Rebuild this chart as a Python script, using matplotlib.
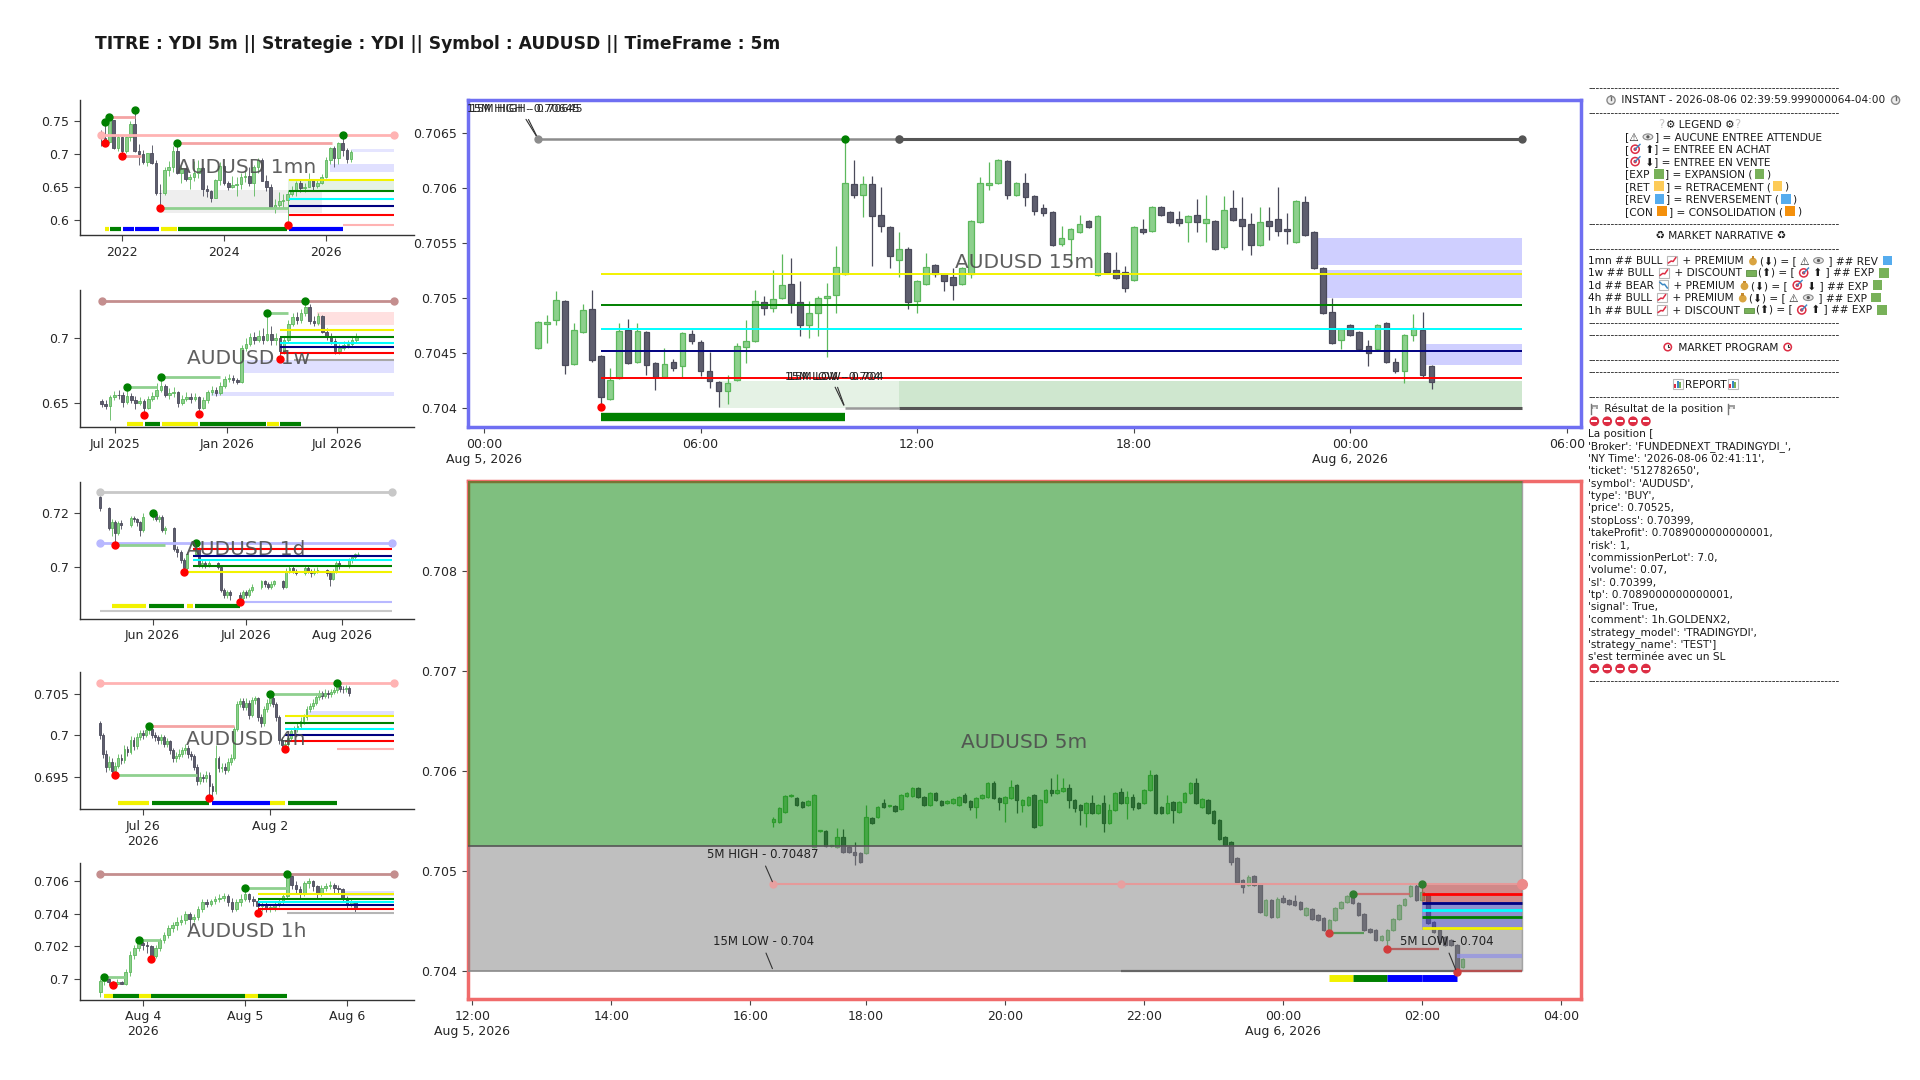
import matplotlib
matplotlib.use("Agg")
import matplotlib.dates as mdates
import matplotlib.pyplot as plt
import numpy as np
import pandas as pd
from matplotlib import font_manager
from matplotlib.ft2font import FT2Font
from matplotlib.lines import Line2D
from matplotlib.patches import Circle, Ellipse, Rectangle
from matplotlib.transforms import IdentityTransform

plt.rcParams["font.family"] = ["DejaVu Sans", "Noto Sans CJK SC"]

TITLE = "TITRE : YDI 5m || Strategie : YDI || Symbol : AUDUSD || TimeFrame : 5m"

# ---------------- monthly (1mn) ----------------
MN_START = "2021-08-01"
MN_OPEN0 = 0.734
mn_close = [.724, .7175, .7515, .709, .7265, .704, .7265, .746, .7045, .6995,
            .688, .701, .686, .6405, .640, .6755, .680, .7045, .6705, .6765,
            .6615, .6645, .6705, .6785, .6465, .643, .6335, .6605, .682, .6565,
            .6505, .6525, .6545, .6645, .6665, .6555, .6805, .6915, .6595, .6505,
            .6195, .6225, .6285, .6295, .6385, .6435, .6555, .6485, .6505, .6605,
            .6515, .6555, .6655, .6905, .7085, .6935, .7165, .7065, .6925, .7035]
mn_high = [.737, .749, .7565, .752, .730, .7275, .728, .7505, .7665, .7155,
           .7065, .702, .7135, .6915, .6545, .6795, .6895, .7115, .7165, .6815,
           .6795, .6695, .6895, .6915, .6805, .6525, .6445, .6625, .6875, .6835,
           .6595, .6665, .6645, .6715, .6755, .6795, .6825, .6945, .6935, .6685,
           .6545, .6315, .6415, .6385, .6445, .6515, .6595, .6625, .6565, .6705,
           .6625, .6615, .6695, .6955, .7105, .7115, .7185, .7285, .7095, .7055]
mn_low = [.7115, .7165, .7165, .707, .705, .6975, .702, .720, .703, .6835,
          .684, .681, .684, .637, .6175, .638, .6665, .672, .669, .6565,
          .6595, .6465, .6595, .6635, .6365, .634, .6275, .6325, .6525, .6535,
          .6445, .6485, .6365, .6465, .6575, .6515, .6355, .6715, .6585, .6435,
          .6175, .6095, .6185, .6185, .5925, .6355, .6365, .6425, .6415, .6505,
          .6445, .6475, .6545, .6635, .6855, .6795, .6855, .6965, .6865, .6885]

# ---------------- weekly (1w) ----------------
W_START = "2025-06-08"
W_OPEN0 = 0.6515
w_close = [.6495, .648, .6545, .6565, .656, .651, .6555, .6525, .6505, .652,
           .6465, .6535, .6555, .6605, .6635, .656, .6575, .6585, .6505, .653,
           .655, .6535, .6545, .6465, .6525, .6585, .6605, .6575, .6635, .6685,
           .6695, .6675, .6665, .6925, .6955, .7005, .6985, .7015, .6985, .7025,
           .6985, .6995, .6895, .6985, .7105, .7155, .7135, .7185, .7235, .7125,
           .7115, .7165, .7045, .7005, .6975, .6895, .6925, .6945, .6955, .6985, .7005]
w_high = [.6535, .6525, .6565, .6595, .6605, .6585, .6622, .6575, .6555, .6545,
          .6535, .6555, .6585, .6655, .6703, .6645, .6615, .6625, .6595, .6565,
          .6585, .6575, .6575, .6555, .6545, .6605, .6635, .6625, .6665, .6705,
          .6725, .6715, .6695, .6945, .6995, .7035, .7045, .7055, .7075, .719,
          .7085, .7035, .7005, .7015, .7135, .7185, .7195, .7215, .7279, .7255,
          .7165, .7185, .7175, .7075, .7035, .6995, .6955, .6975, .6985, .7015, .7035]
w_low = [.6475, .6455, .6375, .6525, .6535, .6475, .6495, .6505, .6455, .6485,
         .6411, .6455, .6515, .6535, .6585, .6545, .6535, .6545, .6475, .6485,
         .6515, .6505, .6515, .6419, .6455, .6505, .6565, .6555, .6565, .6615,
         .6665, .6655, .6645, .6655, .6895, .6935, .6955, .6965, .6955, .6975,
         .6945, .6945, .6835, .6875, .6965, .7085, .7105, .7115, .7165, .7105,
         .7085, .7095, .7035, .6985, .6955, .6875, .6875, .6905, .6925, .6935, .6965]

# ---------------- daily (1d) ----------------
D_START, D_END = "2026-05-15", "2026-08-06"
D_OPEN0 = 0.7259
d_close = [.7216, .7145, .7165, .7125, .716, .7155, .718, .7175, .7165, .7135,
           .7185, .7195, .7175, .7185, .7135, .7145, .7065, .7055, .7025, .6995,
           .7045, .7065, .7005, .7015, .7005, .7015, .7000, .6915, .6895, .6905,
           .6895, .6885, .6905, .6895, .6915, .6925, .6945, .6935, .6925, .6935,
           .6945, .6925, .6985, .6995, .6985, .6975, .6995, .6985, .6975, .6985,
           .6988, .6975, .6955, .6985, .7015, .7005, .7025, .7035, .7045, .7048]
d_high = [.7268, .7222, .7178, .7172, .7168, .7172, .7188, .7186, .7182, .7170,
          .7200, .7200, .7198, .7192, .7190, .7152, .7148, .7078, .7062, .7032,
          .7055, .7089, .7072, .7028, .7022, .7020, .7018, .7003, .6922, .6915,
          .6912, .6905, .6912, .6915, .6922, .6935, .6952, .6952, .6942, .6945,
          .6952, .6950, .6995, .7005, .7002, .6992, .7003, .7005, .6992, .6995,
          .6998, .6992, .6982, .6992, .7022, .7025, .7032, .7042, .7052, .7055]
d_low = [.7205, .7135, .7112, .7079, .7118, .7138, .7148, .7165, .7152, .7115,
         .7128, .7172, .7168, .7165, .7128, .7122, .7058, .7035, .7012, .6979,
         .6988, .7038, .6998, .6995, .6996, .6998, .6992, .6905, .6882, .6885,
         .6878, .6867, .6875, .6885, .6888, .6905, .6918, .6925, .6918, .6918,
         .6928, .6918, .6920, .6978, .6975, .6968, .6968, .6975, .6962, .6970,
         .6975, .6965, .6930, .6950, .6978, .6992, .6995, .7012, .7028, .7038]

# ---------------- 4h ----------------
H4_START = "2026-07-23 16:00"
H4_OPEN0 = 0.7015
h4_close = [.7000, .6978, .6962, .6968, .6957, .6963, .6972, .6970, .6983, .6980,
            .6995, .6987, .6998, .7003, .7001, .7006, .7008, .7001, .6998, .6994,
            .6998, .6990, .6993, .6982, .6972, .6975, .6978, .6982, .6985, .6978,
            .6975, .6962, .6945, .6950, .6948, .6952, .6938, .6932, .6972, .6960,
            .6962, .6958, .6968, .6972, .7008, .7038, .7042, .7035, .7040, .7025,
            .7043, .7045, .7022, .7015, .7032, .7040, .7045, .7038, .7022, .6995,
            .6988, .6990, .6997, .7005, .7008, .7012, .7018, .7022, .7032, .7036,
            .7040, .7047, .7051, .7048, .7052, .7050, .7053, .7055, .7060, .7057,
            .7056, .7058, .7052]
h4_high = [.7018, .7003, .6982, .6975, .6972, .6968, .6978, .6977, .6988, .6987,
           .6999, .6998, .7003, .7007, .7006, .7010, .7012, .7010, .7004, .7000,
           .7002, .7000, .6997, .6995, .6985, .6980, .6983, .6986, .6990, .6988,
           .6981, .6977, .6965, .6955, .6953, .6957, .6955, .6942, .6988, .6975,
           .6967, .6966, .6972, .6977, .7012, .7042, .7046, .7045, .7045, .7043,
           .7047, .7048, .7047, .7026, .7036, .7044, .7050, .7048, .7041, .7025,
           .6998, .6994, .7001, .7009, .7012, .7016, .7022, .7026, .7036, .7040,
           .7044, .7051, .7055, .7054, .7056, .7055, .7057, .7059, .7064, .7062,
           .7060, .7061, .7060]
h4_low = [.6996, .6972, .6955, .6958, .6950, .6952, .6960, .6965, .6967, .6975,
          .6977, .6982, .6984, .6994, .6996, .6998, .7002, .6997, .6993, .6990,
          .6990, .6986, .6986, .6978, .6968, .6968, .6971, .6974, .6978, .6973,
          .6970, .6958, .6940, .6941, .6943, .6944, .6924, .6926, .6929, .6956,
          .6955, .6953, .6955, .6964, .6970, .7005, .7034, .7031, .7031, .7020,
          .7022, .7038, .7018, .7010, .7012, .7028, .7036, .7034, .7018, .6990,
          .6985, .6984, .6986, .6993, .7001, .7004, .7009, .7014, .7019, .7028,
          .7032, .7037, .7043, .7044, .7045, .7046, .7047, .7050, .7052, .7053,
          .7052, .7053, .7048]

# ---------------- 1h ----------------
H1_START = "2026-08-03 14:00"
H1_OPEN0 = 0.6992
h1_close = [.6999, .7000, .6998, .6997, .6998, .6997, .7004, .7015, .7019, .7022,
            .7021, .7020, .7014, .7019, .7024, .7027, .7031, .7033, .7035, .7036,
            .7040, .7037, .7038, .7043, .7047, .7046, .7048, .7049, .7050, .7051,
            .7047, .7043, .7047, .7049, .7052, .7049, .7048, .7045, .7046, .7043,
            .7044, .7046, .7048, .7051, .7063, .7058, .7055, .7053, .7059, .7060,
            .7057, .7052, .7056, .7057, .7058, .7056, .7055, .7050, .7046, .7047, .7043]
h1_high = [.7000, .70014, .7001, .6999, .7000, .6999, .7006, .7017, .7021, .70239,
           .7023, .7023, .7021, .7021, .7025, .7029, .7033, .7035, .7038, .7039,
           .7042, .7041, .7040, .7045, .7049, .7049, .7049, .7051, .7052, .7053,
           .7052, .7050, .7049, .7052, .7056, .7053, .7051, .7049, .7048, .7047,
           .7046, .7048, .7050, .7053, .70647, .7064, .7060, .7057, .7060, .7062,
           .7061, .7058, .7058, .7059, .7060, .7059, .7058, .7056, .7051, .7049, .7048]
h1_low = [.6989, .6996, .6996, .69963, .6996, .69966, .6996, .7002, .7012, .7017,
          .7018, .7016, .7012, .7013, .7017, .7022, .7025, .7029, .7030, .7033,
          .7034, .7030, .7035, .7036, .7041, .7044, .7045, .7046, .7047, .7048,
          .7045, .7041, .7042, .7045, .7048, .7047, .7045, .70402, .7042, .7041,
          .7041, .7042, .7044, .7046, .7050, .7055, .7052, .7050, .7051, .7056,
          .7054, .7050, .7051, .7054, .7055, .7053, .7052, .7047, .7043, .7044, .7041]

# ---------------- 15m (points above 0.70000) ----------------
M15_START = "2026-08-05 01:30"
m15_o = [454, 476, 480, 497, 440, 469, 490, 447, 408, 427, 471, 442, 469, 441, 428, 442, 438, 467, 460, 433,
         423, 415, 425, 455, 461, 496, 491, 500, 513, 496, 475, 486, 500, 503, 522, 604, 594, 604, 576, 565,
         535, 545, 497, 513, 530, 522, 519, 513, 522, 569, 603, 605, 625, 594, 605, 593, 582, 578, 549, 554,
         560, 570, 521, 541, 525, 524, 516, 563, 561, 583, 578, 572, 569, 576, 568, 570, 546, 582, 572, 567,
         548, 570, 572, 563, 551, 587, 560, 527, 487, 462, 475, 469, 456, 453, 477, 442, 433, 466, 471, 438]
m15_h = [479, 484, 506, 498, 477, 494, 507, 448, 436, 477, 481, 477, 470, 442, 454, 444, 469, 471, 462, 451,
         424, 430, 459, 480, 507, 502, 525, 540, 536, 515, 497, 502, 514, 547, 645, 626, 611, 611, 601, 566,
         560, 546, 516, 541, 531, 523, 527, 528, 571, 610, 624, 627, 626, 606, 614, 594, 586, 579, 566, 564,
         576, 571, 576, 542, 542, 529, 566, 572, 584, 584, 579, 579, 576, 590, 594, 571, 593, 598, 592, 577,
         583, 583, 601, 577, 589, 593, 561, 528, 500, 473, 476, 470, 462, 476, 478, 445, 467, 485, 487, 439]
m15_l = [453, 459, 475, 431, 439, 468, 442, 401, 407, 426, 440, 441, 430, 416, 427, 433, 428, 458, 429, 418,
         401, 403, 424, 441, 460, 484, 487, 499, 486, 465, 463, 465, 446, 486, 521, 591, 574, 529, 560, 527,
         519, 490, 486, 512, 519, 506, 498, 512, 518, 568, 598, 604, 590, 593, 584, 576, 575, 547, 547, 532,
         559, 564, 520, 523, 517, 505, 515, 558, 560, 575, 568, 566, 551, 560, 551, 544, 545, 570, 544, 539,
         547, 553, 556, 549, 550, 556, 526, 485, 458, 453, 465, 452, 438, 452, 441, 432, 422, 461, 427, 417]
m15_c = [478, 478, 498, 439, 471, 489, 443, 410, 425, 470, 441, 470, 439, 428, 440, 436, 468, 461, 433, 424,
         415, 422, 456, 461, 497, 491, 499, 512, 495, 475, 486, 500, 502, 528, 605, 594, 604, 575, 566, 538,
         545, 496, 515, 528, 522, 515, 512, 527, 570, 605, 605, 626, 594, 605, 592, 579, 577, 548, 555, 563,
         567, 565, 575, 524, 518, 509, 565, 560, 583, 576, 569, 568, 575, 569, 572, 545, 580, 571, 566, 548,
         569, 566, 561, 561, 588, 557, 527, 486, 459, 472, 466, 453, 450, 475, 442, 433, 466, 473, 430, 423]

# ---------------- 5m (points above 0.70000) ----------------
M5_START = "2026-08-05 16:40"
m5_o = [549, 549, 559, 575, 573, 569, 566, 524, 540, 540, 525, 524, 534, 524, 519, 518, 518, 553, 554, 568,
        565, 565, 562, 575, 575, 583, 574, 566, 578, 570, 568, 568, 566, 576, 570, 564, 573, 574, 588, 573,
        568, 573, 586, 566, 566, 576, 546, 569, 581, 578, 580, 583, 571, 566, 558, 568, 558, 568, 548, 561,
        579, 568, 574, 568, 568, 581, 596, 564, 558, 569, 559, 569, 578, 588, 564, 571, 560, 551, 534, 529,
        513, 491, 486, 495, 487, 456, 471, 454, 473, 471, 470, 469, 456, 462, 456, 453, 441, 451, 463, 469,
        477, 468, 457, 442, 441, 431, 431, 441, 452, 466, 475, 485, 471, 477, 449, 441, 434, 431, 426, 404]
m5_h = [554, 564, 576, 577, 574, 570, 571, 577, 541, 541, 526, 543, 542, 525, 529, 519, 566, 554, 565, 572,
        566, 566, 577, 579, 584, 584, 575, 579, 579, 571, 571, 573, 575, 578, 571, 574, 577, 589, 590, 574,
        575, 591, 587, 572, 575, 577, 572, 582, 593, 597, 593, 587, 572, 567, 569, 576, 567, 576, 567, 579,
        583, 580, 577, 569, 582, 601, 597, 565, 576, 570, 570, 579, 589, 593, 573, 572, 561, 552, 535, 530,
        514, 492, 496, 496, 488, 472, 472, 474, 476, 472, 476, 470, 464, 463, 457, 454, 452, 464, 470, 476,
        477, 469, 458, 443, 442, 436, 442, 453, 467, 473, 486, 487, 487, 478, 450, 442, 435, 432, 427, 413]
m5_l = [544, 548, 558, 574, 565, 563, 565, 523, 539, 524, 524, 523, 518, 518, 506, 508, 517, 547, 553, 563,
        564, 559, 561, 574, 574, 573, 565, 565, 570, 565, 567, 567, 565, 568, 561, 553, 572, 573, 572, 561,
        549, 572, 558, 559, 565, 543, 545, 568, 575, 577, 579, 563, 559, 546, 544, 557, 557, 539, 547, 560,
        567, 552, 561, 562, 567, 580, 557, 557, 557, 548, 558, 568, 577, 567, 563, 557, 547, 531, 525, 506,
        488, 478, 485, 485, 458, 455, 453, 453, 468, 466, 465, 461, 455, 451, 450, 440, 438, 450, 462, 468,
        467, 455, 440, 438, 430, 430, 422, 440, 451, 465, 474, 470, 470, 447, 438, 428, 425, 425, 399, 403]
m5_c = [552, 563, 575, 576, 566, 564, 570, 576, 540, 525, 525, 534, 519, 519, 516, 509, 554, 548, 564, 564,
        565, 560, 576, 578, 583, 574, 566, 578, 571, 566, 570, 572, 574, 569, 564, 573, 576, 588, 573, 569,
        574, 584, 571, 571, 574, 544, 571, 581, 578, 581, 583, 571, 563, 561, 568, 558, 566, 548, 561, 578,
        568, 574, 564, 563, 581, 596, 558, 558, 568, 561, 569, 578, 588, 568, 572, 558, 548, 532, 526, 509,
        489, 484, 494, 486, 459, 471, 454, 472, 469, 467, 466, 462, 463, 452, 451, 441, 451, 463, 469, 475,
        468, 456, 441, 439, 431, 435, 441, 452, 466, 472, 485, 471, 479, 448, 439, 429, 426, 426, 401, 412]

ENTRY, SL, TP = 0.70525, 0.70399, 0.7089
H15_HIGH, H15_LOW, M5_HIGH = 0.70645, 0.704, 0.70487
m15_levels = [0.70522, 0.704935, 0.70472, 0.70452, 0.70427]
m5_levels = [0.70477, 0.70468, 0.70461, 0.70454, 0.70443]
LEVEL_COLORS = ["#f2f200", "green", "cyan", "navy", "red"]
LEVEL_COLORS_5M = ["red", "navy", "cyan", "green", "#f2f200"]

small_yticks = {
    "1mn": [0.6, 0.65, 0.7, 0.75],
    "1w": [0.65, 0.7],
    "1d": [0.7, 0.72],
    "4h": [0.695, 0.7, 0.705],
    "1h": [0.7, 0.702, 0.704, 0.706],
}
small_xticks = {
    "1mn": (["2022-01-01", "2024-01-01", "2026-01-01"], ["2022", "2024", "2026"]),
    "1w": (["2025-07-01", "2026-01-01", "2026-07-01"], ["Jul 2025", "Jan 2026", "Jul 2026"]),
    "1d": (["2026-06-01", "2026-07-01", "2026-08-01"], ["Jun 2026", "Jul 2026", "Aug 2026"]),
    "4h": (["2026-07-26", "2026-08-02"], ["Jul 26\n2026", "Aug 2"]),
    "1h": (["2026-08-04", "2026-08-05", "2026-08-06"], ["Aug 4\n2026", "Aug 5", "Aug 6"]),
}

report_lines = [
    "DASH",
    "     \u23f1 INSTANT - 2026-08-06 02:39:59.999000064-04:00 \u23f1",
    "DASH",
    "                     \u2754\u2699 LEGEND \u2699\u2754",
    "           [\u26a0 \U0001f441] = AUCUNE ENTREE ATTENDUE",
    "           [\U0001f3af \u2b06] = ENTREE EN ACHAT",
    "           [\U0001f3af \u2b07] = ENTREE EN VENTE",
    "           [EXP \U0001f7e9] = EXPANSION (\U0001f7e9)",
    "           [RET \U0001f7e8] = RETRACEMENT (\U0001f7e8)",
    "           [REV \U0001f7e6] = RENVERSEMENT (\U0001f7e6)",
    "           [CON \U0001f7e7] = CONSOLIDATION (\U0001f7e7)",
    "DASH",
    "                    \u267b MARKET NARRATIVE \u267b",
    "DASH",
    "1mn ## BULL \U0001f4c8 + PREMIUM \U0001f4b0(\u2b07) = [ \u26a0 \U0001f441 ] ## REV \U0001f7e6",
    "1w ## BULL \U0001f4c8 + DISCOUNT \U0001f4b8(\u2b06) = [ \U0001f3af \u2b06 ] ## EXP \U0001f7e9",
    "1d ## BEAR \U0001f4c9 + PREMIUM \U0001f4b0(\u2b07) = [ \U0001f3af \u2b07 ] ## EXP \U0001f7e9",
    "4h ## BULL \U0001f4c8 + PREMIUM \U0001f4b0(\u2b07) = [ \u26a0 \U0001f441 ] ## EXP \U0001f7e9",
    "1h ## BULL \U0001f4c8 + DISCOUNT \U0001f4b8(\u2b06) = [ \U0001f3af \u2b06 ] ## EXP \U0001f7e9",
    "DASH",
    "DASH",
    "                      \u23f0 MARKET PROGRAM \u23f0",
    "DASH",
    "DASH",
    "                         \U0001f4caREPORT\U0001f4ca",
    "DASH",
    "\U0001f3c1 R\u00e9sultat de la position \U0001f3c1",
    "\u26d4\u26d4\u26d4\u26d4\u26d4",
    "La position [",
    "'Broker': 'FUNDEDNEXT_TRADINGYDI_',",
    "'NY Time': '2026-08-06 02:41:11',",
    "'ticket': '512782650',",
    "'symbol': 'AUDUSD',",
    "'type': 'BUY',",
    "'price': 0.70525,",
    "'stopLoss': 0.70399,",
    "'takeProfit': 0.7089000000000001,",
    "'risk': 1,",
    "'commissionPerLot': 7.0,",
    "'volume': 0.07,",
    "'sl': 0.70399,",
    "'tp': 0.7089000000000001,",
    "'signal': True,",
    "'comment': 1h.GOLDENX2,",
    "'strategy_model': 'TRADINGYDI',",
    "'strategy_name': 'TEST']",
    "s'est termin\u00e9e avec un SL",
    "\u26d4\u26d4\u26d4\u26d4\u26d4",
    "DASH",
]

UP_FACE, UP_EDGE = "#8dd08d", "#5cb85c"
DN_FACE, DN_EDGE = "#5e5e6e", "#4a4a5a"
LIGHT_GREEN, LIGHT_RED = "#8fd08f", "#f4a3a3"

# emoji that no installed family carries are drawn as small shapes
EMOJI_SHAPES = {
    "\u23f1": "stopwatch", "\u23f0": "alarm", "\u26d4": "noentry", "\u2754": "question",
    "\U0001f441": "eye", "\U0001f3af": "target", "\U0001f7e9": "#78b159",
    "\U0001f7e8": "#fdcb58", "\U0001f7e6": "#55acee", "\U0001f7e7": "#f4900c",
    "\U0001f4c8": "chart_up", "\U0001f4c9": "chart_down", "\U0001f4b0": "moneybag",
    "\U0001f4b8": "money_wings", "\U0001f4ca": "barchart", "\U0001f3c1": "flag",
}


def d(t):
    return mdates.date2num(pd.Timestamp(t))


def pts(v):
    return 0.70 + np.asarray(v, float) / 1e5


def candles(ax, t, o, h, l, c, width, min_body, lw=0.7):
    x = mdates.date2num(t)
    o, h, l, c = (np.asarray(a, float) for a in (o, h, l, c))
    up = c >= o
    for m, face, edge in ((up, UP_FACE, UP_EDGE), (~up, DN_FACE, DN_EDGE)):
        ax.vlines(x[m], l[m], h[m], color=edge, lw=lw, zorder=2)
        body = np.maximum(np.abs(c[m] - o[m]), min_body)
        ax.bar(x[m], body, bottom=np.minimum(o[m], c[m]), width=width,
               color=face, edgecolor=edge, linewidth=lw, zorder=3)
    return x


def hline(ax, t0, t1, y, color, lw=1.5, z=4, alpha=1.0, dots=False, ms=5):
    ax.plot([d(t0), d(t1)], [y, y], color=color, lw=lw, zorder=z, alpha=alpha,
            marker="o" if dots else None, ms=ms, solid_capstyle="butt")


def band(ax, t0, t1, y0, y1, color, alpha, z=1):
    ax.fill_between([d(t0), d(t1)], y0, y1, color=color, alpha=alpha, lw=0, zorder=z)


def dot(ax, t, y, color, ms=5, z=7):
    ax.plot([d(t)], [y], "o", color=color, ms=ms, zorder=z)


def seg_bars(ax, y, segs, lw=3):
    for t0, t1, col in segs:
        hline(ax, t0, t1, y, col, lw=lw, z=4)


def watermark(ax, t, y, text):
    ax.text(d(t), y, text, fontsize=14.5, color="#4d4d4d", alpha=0.9,
            ha="center", va="center", zorder=9)


def style_small(ax, key, xlim, ylim):
    ax.set_xlim(d(xlim[0]), d(xlim[1]))
    ax.set_ylim(*ylim)
    for s in ("top", "right"):
        ax.spines[s].set_visible(False)
    for s in ("left", "bottom"):
        ax.spines[s].set_color("#333333")
        ax.spines[s].set_linewidth(1.0)
    locs, labels = small_xticks[key]
    ax.set_xticks([d(v) for v in locs], labels)
    yt = small_yticks[key]
    ax.set_yticks(yt, [f"{v:g}" for v in yt])
    ax.tick_params(labelsize=9, length=4, width=0.8, color="#444444", labelcolor="#262626")


def opens(open0, close):
    return np.r_[open0, np.asarray(close[:-1], float)]


fig = plt.figure(figsize=(19.2, 10.8), dpi=100)
FIG_W, FIG_H = 1920, 1080
fig.text(0.0497, 0.959, TITLE, fontsize=12.3, fontweight="bold", va="center", color="#1a1a1a")

# ======================= 1mn =======================
ax = fig.add_axes([0.0415, 0.7823, 0.1741, 0.1247])
tm = pd.date_range(MN_START, periods=len(mn_close), freq="MS")
candles(ax, tm, opens(MN_OPEN0, mn_close), mn_high, mn_low, mn_close, 18, 0.0008, lw=0.6)
band(ax, "2022-10-01", "2025-12-01", 0.61, 0.6455, "#bdbdbd", 0.25, z=0.5)
band(ax, "2025-04-01", "2027-05-01", 0.644, 0.6615, "green", 0.1)
band(ax, "2026-02-01", "2027-05-01", 0.6725, 0.684, "blue", 0.12)
band(ax, "2026-07-01", "2027-05-01", 0.703, 0.7075, "blue", 0.1)
hline(ax, tm[0], "2027-05-01", 0.7285, "#ffb3b3", lw=2, dots=True)
hline(ax, tm[2], tm[8], mn_high[2], LIGHT_RED, lw=2)
hline(ax, tm[5], "2022-05-15", mn_low[5], LIGHT_RED, lw=2)
hline(ax, tm[18], "2026-02-15", mn_high[18], LIGHT_RED, lw=2)
hline(ax, tm[14], tm[44], mn_low[14], LIGHT_GREEN, lw=2)
for lvl, col in zip([0.6605, 0.644, 0.6315, 0.621, 0.607], LEVEL_COLORS):
    hline(ax, "2025-04-10", "2027-05-01", lvl, col, lw=1.5)
hline(ax, "2026-05-01", "2027-05-01", 0.5915, "#ffb3b3", lw=1.5)
for i in (1, 2, 8, 18, 57):
    dot(ax, tm[i], mn_high[i], "green")
for i in (1, 5, 14, 44):
    dot(ax, tm[i], mn_low[i], "red")
seg_bars(ax, 0.5855, [("2021-09-01", "2021-10-01", "#f2f200"), ("2021-10-08", "2021-12-25", "green"),
                      ("2022-01-05", "2022-03-25", "blue"), ("2022-04-05", "2022-09-25", "blue"),
                      ("2022-10-05", "2023-01-30", "#f2f200"), ("2023-02-05", "2025-03-28", "green"),
                      ("2025-04-08", "2026-05-01", "blue")])
watermark(ax, "2024-06-10", 0.679, "AUDUSD 1mn")
style_small(ax, "1mn", ("2021-03-03", "2027-09-24"), (0.5765, 0.7815))

# ======================= 1w =======================
ax = fig.add_axes([0.0415, 0.6043, 0.1741, 0.1272])
tw = pd.date_range(W_START, periods=len(w_close), freq="7D")
candles(ax, tw, opens(W_OPEN0, w_close), w_high, w_low, w_close, 4.3, 0.0004, lw=0.6)
band(ax, "2026-05-29", "2026-10-03", 0.7097, 0.7198, "red", 0.12)
band(ax, "2026-01-23", "2026-10-03", 0.6728, 0.683, "blue", 0.12)
band(ax, "2025-12-06", "2026-10-03", 0.6556, 0.6589, "blue", 0.12)
hline(ax, tw[0], "2026-10-03", 0.7279, "#c48e8e", lw=2, dots=True)
hline(ax, tw[6], "2025-09-08", w_high[6], LIGHT_GREEN, lw=2)
hline(ax, tw[14], "2025-12-20", w_high[14], LIGHT_GREEN, lw=2)
hline(ax, tw[39], "2026-04-12", w_high[39], LIGHT_GREEN, lw=2)
for lvl, col in zip([0.7056, 0.7003, 0.6962, 0.6926, 0.6881], LEVEL_COLORS):
    hline(ax, "2026-03-30", "2026-10-03", lvl, col, lw=1.5)
hline(ax, "2026-04-21", "2026-10-03", 0.683, "#a8a8a8", lw=1.5)
for i in (6, 14, 39, 48):
    dot(ax, tw[i], w_high[i], "green")
for i in (10, 23, 42):
    dot(ax, tw[i], w_low[i], "red")
seg_bars(ax, 0.634, [("2025-07-20", "2025-08-15", "#f2f200"), ("2025-08-18", "2025-09-12", "green"),
                     ("2025-09-15", "2025-11-14", "#f2f200"), ("2025-11-17", "2026-03-06", "green"),
                     ("2026-03-08", "2026-03-28", "#f2f200"), ("2026-03-30", "2026-05-02", "green")])
watermark(ax, "2026-02-05", 0.6843, "AUDUSD 1w")
style_small(ax, "1w", ("2025-05-03", "2026-11-05"), (0.6317, 0.7363))

# ======================= 1d =======================
ax = fig.add_axes([0.0415, 0.4269, 0.1741, 0.1271])
td = pd.bdate_range(D_START, D_END)
candles(ax, td, opens(D_OPEN0, d_close), d_high, d_low, d_close, 0.62, 0.00015, lw=0.6)
hline(ax, td[0], "2026-08-17", 0.7278, "#c8c8c8", lw=2, dots=True)
hline(ax, td[0], "2026-08-17", 0.7089, "#b8b8ff", lw=2, dots=True)
hline(ax, td[3], "2026-06-05", d_low[3], LIGHT_GREEN, lw=2)
for lvl, col in zip([0.7064, 0.7041, 0.7025, 0.7004], ["red", "navy", "cyan", "green"]):
    hline(ax, "2026-06-14", "2026-08-17", lvl, col, lw=1.5)
hline(ax, "2026-06-12", "2026-08-17", 0.6979, "#f2f200", lw=1.5)
hline(ax, td[31], "2026-08-17", d_low[31], "#b8b8ff", lw=1.5)
hline(ax, td[0], "2026-08-17", 0.6836, "#c8c8c8", lw=1.5)
for i in (11, 21):
    dot(ax, td[i], d_high[i], "green")
for i in (3, 19, 31):
    dot(ax, td[i], d_low[i], "red")
seg_bars(ax, 0.6854, [("2026-05-19", "2026-05-30", "#f2f200"), ("2026-05-31", "2026-06-11", "green"),
                      ("2026-06-12", "2026-06-14", "#f2f200"), ("2026-06-14 12:00", "2026-06-29", "green")])
watermark(ax, "2026-07-01", 0.7062, "AUDUSD 1d")
style_small(ax, "1d", ("2026-05-08 14:00", "2026-08-24"), (0.6806, 0.7315))

# ======================= 4h =======================
ax = fig.add_axes([0.0415, 0.2507, 0.1741, 0.1274])
t4 = pd.date_range(H4_START, periods=len(h4_close), freq="4h")
candles(ax, t4, opens(H4_OPEN0, h4_close), h4_high, h4_low, h4_close, 0.1, 0.00006, lw=0.6)
end4 = "2026-08-08 19:00"
band(ax, t4[68], end4, 0.7025, 0.7030, "blue", 0.12)
hline(ax, t4[0], end4, 0.7064, "#ffb3b3", lw=2, dots=True)
hline(ax, t4[16], t4[44], h4_high[16], LIGHT_RED, lw=2)
hline(ax, t4[5], t4[32], h4_low[5], LIGHT_GREEN, lw=2)
hline(ax, t4[56], t4[73], h4_high[56], LIGHT_GREEN, lw=2)
for lvl, col in zip([0.7024, 0.7015, 0.7008, 0.7001, 0.6993], LEVEL_COLORS):
    hline(ax, t4[61], end4, lvl, col, lw=1.5)
hline(ax, t4[78], end4, 0.6984, "#ffb3b3", lw=1.5)
for i in (16, 56, 78):
    dot(ax, t4[i], h4_high[i], "green")
for i in (5, 36, 61):
    dot(ax, t4[i], h4_low[i], "red")
seg_bars(ax, 0.6918, [(t4[6], t4[16], "#f2f200"), (t4[17], t4[36], "green"), (t4[37], t4[56], "blue"),
                      (t4[56], t4[61], "#f2f200"), (t4[62], t4[78], "green")])
watermark(ax, "2026-07-31 16:00", 0.6995, "AUDUSD 4h")
style_small(ax, "4h", ("2026-07-22 13:00", "2026-08-09 21:30"), (0.69103, 0.70775))

# ======================= 1h =======================
ax = fig.add_axes([0.0415, 0.0740, 0.1741, 0.1266])
t1 = pd.date_range(H1_START, periods=len(h1_close), freq="1h")
candles(ax, t1, opens(H1_OPEN0, h1_close), h1_high, h1_low, h1_close, 0.026, 0.00003, lw=0.6)
end1 = "2026-08-06 11:00"
band(ax, t1[57], end1, 0.7051, 0.7054, "blue", 0.12)
hline(ax, t1[0], end1, 0.70645, "#c48e8e", lw=2, dots=True)
hline(ax, t1[1], t1[6], h1_high[1], LIGHT_GREEN, lw=2)
hline(ax, t1[9], t1[14], h1_high[9], LIGHT_GREEN, lw=2)
hline(ax, t1[34], t1[44], h1_high[34], LIGHT_GREEN, lw=2)
for lvl, col in zip([0.70522, 0.70494, 0.70471, 0.70453, 0.70429], LEVEL_COLORS):
    hline(ax, t1[37], end1, lvl, col, lw=1.5)
hline(ax, t1[44], end1, 0.70402, "#b5b5b5", lw=1.5)
for i in (1, 9, 34, 44):
    dot(ax, t1[i], h1_high[i], "green")
for i in (3, 12, 37):
    dot(ax, t1[i], h1_low[i], "red")
seg_bars(ax, 0.69892, [(t1[1], t1[3], "#f2f200"), (t1[3], t1[9], "green"), (t1[9], t1[12], "#f2f200"),
                       (t1[12], t1[34], "green"), (t1[34], t1[37], "#f2f200"), (t1[37], t1[44], "green")])
watermark(ax, "2026-08-05 00:20", 0.7029, "AUDUSD 1h")
style_small(ax, "1h", ("2026-08-03 09:10", "2026-08-06 15:45"), (0.6987, 0.7071))

# ======================= 15m =======================
ax = fig.add_axes([0.2436, 0.6043, 0.5797, 0.3027])
t15 = pd.date_range(M15_START, periods=len(m15_c), freq="15min")
candles(ax, t15, pts(m15_o), pts(m15_h), pts(m15_l), pts(m15_c), 0.0066, 0.000015, lw=0.9)
end15 = "2026-08-06 04:45"
band(ax, "2026-08-05 06:30", "2026-08-05 11:30", H15_LOW, 0.70424, "green", 0.1, z=1)
band(ax, "2026-08-05 11:30", end15, H15_LOW, 0.70424, "green", 0.19, z=1)
band(ax, "2026-08-05 23:00", end15, 0.7053, 0.70555, "blue", 0.19, z=1)
band(ax, "2026-08-05 23:15", end15, 0.7050, 0.70525, "blue", 0.19, z=1)
band(ax, "2026-08-06 02:00", end15, 0.70439, 0.70458, "blue", 0.19, z=1)
hline(ax, t15[0], "2026-08-05 11:30", H15_HIGH, "#8c8c8c", lw=1.8, dots=True)
hline(ax, "2026-08-05 11:30", end15, H15_HIGH, "#555555", lw=2.2, dots=True)
hline(ax, t15[34], "2026-08-05 11:30", H15_LOW, "#9a9a9a", lw=1.8)
hline(ax, "2026-08-05 11:30", end15, H15_LOW, "#555555", lw=2.2)
for lvl, col in zip(m15_levels, LEVEL_COLORS):
    hline(ax, t15[7], end15, lvl, col, lw=1.4)
hline(ax, t15[7], t15[34], 0.70391, "green", lw=6)
dot(ax, t15[7], pts(m15_l[7]), "red")
dot(ax, t15[34], H15_HIGH, "green")
for dx in (0.0, 0.0035):
    ax.annotate("15M HIGH - 0.70645", xy=(d(t15[0]), H15_HIGH),
                xytext=(d("2026-08-04 23:31") + dx, 0.70672), fontsize=8, color="#222222",
                va="center", ha="left",
                arrowprops=dict(arrowstyle="-", color="#333333", lw=0.8, relpos=(0.5, 0.0)))
    ax.annotate("15M LOW - 0.704", xy=(d(t15[34]), H15_LOW),
                xytext=(d("2026-08-05 08:20") + dx, 0.70428), fontsize=8, color="#222222",
                va="center", ha="left", zorder=8,
                arrowprops=dict(arrowstyle="-", color="#333333", lw=0.8, relpos=(0.5, 0.0)))
watermark(ax, "2026-08-05 14:58", 0.70532, "AUDUSD 15m")
ax.set_xlim(d("2026-08-04 23:33"), d("2026-08-06 06:23"))
ax.set_ylim(0.70382, 0.70680)
x15_ticks = pd.date_range("2026-08-05", periods=6, freq="6h")
ax.set_xticks(mdates.date2num(x15_ticks),
              ["00:00\nAug 5, 2026", "06:00", "12:00", "18:00", "00:00\nAug 6, 2026", "06:00"])
yt = [0.704, 0.7045, 0.705, 0.7055, 0.706, 0.7065]
ax.set_yticks(yt, [f"{v:g}" for v in yt])
ax.tick_params(labelsize=9, length=4, color="#444444", labelcolor="#262626")
for s in ax.spines.values():
    s.set_color("#6f6ff2")
    s.set_linewidth(2.5)

# ======================= 5m =======================
ax = fig.add_axes([0.2436, 0.0748, 0.5797, 0.4796])
t5 = pd.date_range(M5_START, periods=len(m5_c), freq="5min")
candles(ax, t5, pts(m5_o), pts(m5_h), pts(m5_l), pts(m5_c), 0.0021, 0.000012, lw=0.9)
zone_end = "2026-08-06 03:26"
band(ax, "2026-08-05 11:00", zone_end, ENTRY, 0.7095, "green", 0.5, z=5)
band(ax, "2026-08-05 11:00", zone_end, H15_LOW, ENTRY, "gray", 0.5, z=5)
ax.vlines(d(zone_end), H15_LOW, 0.7095, color="#666666", lw=1, alpha=0.6, zorder=5.2)
hline(ax, "2026-08-05 11:00", zone_end, ENTRY, "#555555", lw=1.2, z=5.3)
hline(ax, "2026-08-05 11:00", zone_end, H15_LOW, "#8a8a8a", lw=1.2, z=5.3)
hline(ax, t5[60], zone_end, H15_LOW, "#666666", lw=1.6, z=5.4)
hline(ax, t5[0], zone_end, M5_HIGH, "#e59a9a", lw=1.5, z=6)
for tt in (t5[0], t5[60]):
    dot(ax, tt, M5_HIGH, "#e8a0a0", ms=5, z=6)
dot(ax, zone_end, M5_HIGH, "#ec8a8a", ms=7, z=6)
band(ax, t5[112], zone_end, 0.70469, M5_HIGH, "red", 0.28, z=5.5)
band(ax, t5[112], zone_end, 0.70441, 0.70469, "blue", 0.25, z=5.5)
for lvl, col in zip(m5_levels, LEVEL_COLORS_5M):
    hline(ax, t5[112], zone_end, lvl, col, lw=2, z=6.5)
hline(ax, t5[118], zone_end, 0.70415, "#8f8fe6", lw=3, alpha=0.7, z=6)
hline(ax, t5[118], zone_end, H15_LOW, "#b55050", lw=1.6, z=6)
hline(ax, t5[96], t5[102], pts(m5_l[96]), "#3f8f3f", lw=1.6, alpha=0.8, z=6)
hline(ax, t5[100], t5[110], pts(m5_h[100]), "#d06060", lw=1.6, alpha=0.8, z=6)
hline(ax, t5[106], t5[115], pts(m5_l[106]), "#b04848", lw=1.6, alpha=0.8, z=6)
for i in (100, 112):
    dot(ax, t5[i], pts(m5_h[i]), "#2e7d2e", ms=5)
for i in (96, 106, 118):
    dot(ax, t5[i], pts(m5_l[i]), "#d23c3c", ms=5)
seg_bars(ax, 0.70393, [(t5[96], t5[100], "#f2f200"), (t5[100], t5[106], "green"),
                       (t5[106], t5[112], "blue"), (t5[112], t5[118], "blue")], lw=5)
arrow = dict(arrowstyle="-", color="#333333", lw=0.8, relpos=(0.5, 0.0))
ax.annotate("5M HIGH - 0.70487", xy=(d(t5[0]), M5_HIGH), xytext=(d("2026-08-05 15:43"), 0.70517),
            fontsize=8.5, color="#222222", va="center", ha="left", zorder=9, arrowprops=arrow)
ax.annotate("15M LOW - 0.704", xy=(d(t5[0]), H15_LOW), xytext=(d("2026-08-05 15:48"), 0.70430),
            fontsize=8.5, color="#222222", va="center", ha="left", zorder=9, arrowprops=arrow)
ax.annotate("5M LOW - 0.704", xy=(d(t5[118]), pts(m5_l[118])), xytext=(d("2026-08-06 01:41"), 0.70430),
            fontsize=8.5, color="#222222", va="center", ha="left", zorder=9, arrowprops=arrow)
watermark(ax, "2026-08-05 20:16", 0.70629, "AUDUSD 5m")
ax.set_xlim(d("2026-08-05 12:16"), d("2026-08-06 04:17"))
ax.set_ylim(0.70372, 0.70890)
# the reference places its first three labels 20 minutes right of the hour
x5_ticks = ["2026-08-05 12:20", "2026-08-05 14:20", "2026-08-05 16:20", "2026-08-05 18:00",
            "2026-08-05 20:00", "2026-08-05 22:00", "2026-08-06 00:00", "2026-08-06 02:00",
            "2026-08-06 04:00"]
ax.set_xticks([d(v) for v in x5_ticks],
              ["12:00\nAug 5, 2026", "14:00", "16:00", "18:00", "20:00", "22:00",
               "00:00\nAug 6, 2026", "02:00", "04:00"])
yt = [0.704, 0.705, 0.706, 0.707, 0.708]
ax.set_yticks(yt, [f"{v:g}" for v in yt])
ax.tick_params(labelsize=9, length=4, color="#444444", labelcolor="#262626")
for s in ax.spines.values():
    s.set_color("#f06b6b")
    s.set_linewidth(2.5)

# ======================= report panel =======================
PANEL_SIZE = 7.6
EM = PANEL_SIZE * 100 / 72
panel_font = FT2Font(font_manager.findfont("DejaVu Sans"))
panel_font.set_size(PANEL_SIZE, 100)
PX = IdentityTransform()


def advance(s):
    return sum(panel_font.load_char(ord(ch)).linearHoriAdvance for ch in s) / 65536.0


def draw_icon(kind, x, yb):
    s = 0.92 * EM
    x0, y0 = x + 0.12 * EM, yb - 0.12 * EM
    cx, cy = x0 + s / 2, y0 + s / 2
    add = fig.add_artist
    if kind == "question":
        fig.text(x / FIG_W, yb / FIG_H, "?", fontsize=PANEL_SIZE + 1, color="#c4c4c4",
                 va="baseline", ha="left")
        return advance("?") * 1.3
    if kind.startswith("#"):
        add(Rectangle((x0, y0), s, s, fc=kind, ec="none", transform=PX))
    elif kind == "noentry":
        add(Circle((cx, cy), s / 2, fc="#dd2e44", ec="none", transform=PX))
        add(Rectangle((cx - s * 0.32, cy - s * 0.1), s * 0.64, s * 0.2, fc="white", ec="none", transform=PX))
    elif kind == "stopwatch":
        add(Circle((cx, cy - s * 0.05), s * 0.42, fc="#eeeeee", ec="#8a8a8a", lw=1, transform=PX))
        add(Line2D([cx, cx], [cy - s * 0.05, cy + s * 0.25], color="#666666", lw=1, transform=PX))
        add(Rectangle((cx - s * 0.1, cy + s * 0.38), s * 0.2, s * 0.12, fc="#8a8a8a", ec="none", transform=PX))
    elif kind == "alarm":
        add(Circle((cx, cy), s * 0.46, fc="#dd2e44", ec="none", transform=PX))
        add(Circle((cx, cy), s * 0.3, fc="white", ec="none", transform=PX))
        add(Line2D([cx, cx, cx + s * 0.15], [cy + s * 0.2, cy, cy], color="#333333", lw=0.8, transform=PX))
    elif kind == "eye":
        add(Ellipse((cx, cy), s, s * 0.6, fc="#e8e8e8", ec="#8a8a8a", lw=0.8, transform=PX))
        add(Circle((cx, cy), s * 0.17, fc="#5a5a5a", ec="none", transform=PX))
    elif kind == "target":
        for r, col in ((0.5, "#dd2e44"), (0.34, "white"), (0.18, "#dd2e44")):
            add(Circle((cx, cy), s * r, fc=col, ec="none", transform=PX))
        add(Line2D([cx, cx + s * 0.5], [cy, cy + s * 0.5], color="#3b88c3", lw=1, transform=PX))
    elif kind in ("chart_up", "chart_down"):
        add(Rectangle((x0, y0), s, s, fc="white", ec="#b8b8b8", lw=0.8, transform=PX))
        ys = [0.25, 0.45, 0.4, 0.8] if kind == "chart_up" else [0.8, 0.55, 0.6, 0.22]
        col = "#dd2e44" if kind == "chart_up" else "#3b88c3"
        xs = [0.12, 0.4, 0.6, 0.88]
        add(Line2D([x0 + s * v for v in xs], [y0 + s * v for v in ys], color=col, lw=1.1, transform=PX))
    elif kind == "moneybag":
        add(Circle((cx, cy - s * 0.1), s * 0.4, fc="#d9a441", ec="none", transform=PX))
        add(Rectangle((cx - s * 0.15, cy + s * 0.2), s * 0.3, s * 0.25, fc="#c58a2e", ec="none", transform=PX))
    elif kind == "money_wings":
        add(Rectangle((x0, y0 + s * 0.2), s, s * 0.55, fc="#78b159", ec="#5c8f42", lw=0.6, transform=PX))
    elif kind == "barchart":
        add(Rectangle((x0, y0), s, s, fc="white", ec="#b8b8b8", lw=0.8, transform=PX))
        for k, (hgt, col) in enumerate(((0.45, "#dd2e44"), (0.75, "#3b88c3"), (0.6, "#78b159"))):
            add(Rectangle((x0 + s * (0.14 + 0.26 * k), y0 + s * 0.1), s * 0.18, s * hgt,
                          fc=col, ec="none", transform=PX))
    elif kind == "flag":
        add(Line2D([x0 + s * 0.15, x0 + s * 0.15], [y0, y0 + s], color="#777777", lw=1, transform=PX))
        add(Rectangle((x0 + s * 0.15, y0 + s * 0.45), s * 0.75, s * 0.5, fc="#a0a0a0", ec="none", transform=PX))
        add(Rectangle((x0 + s * 0.4, y0 + s * 0.45), s * 0.25, s * 0.25, fc="#e8e8e8", ec="none", transform=PX))
    return 1.22 * EM


def rich_line(text, x, yb):
    run = ""
    for ch in text + "\0":
        if ch in EMOJI_SHAPES or ch == "\0":
            if run:
                fig.text(x / FIG_W, yb / FIG_H, run, fontsize=PANEL_SIZE, color="#1a1a1a",
                         va="baseline", ha="left")
                x += advance(run)
                run = ""
            if ch != "\0":
                x += draw_icon(EMOJI_SHAPES[ch], x, yb)
        else:
            run += ch


y_top, step = 0.9184 * FIG_H, 0.01145 * FIG_H
for k, line in enumerate(report_lines):
    txt = "-" * 67 if line == "DASH" else line
    rich_line(txt, 0.8272 * FIG_W, y_top - k * step - 0.27 * EM)

fig.savefig("out.png", dpi=100)
